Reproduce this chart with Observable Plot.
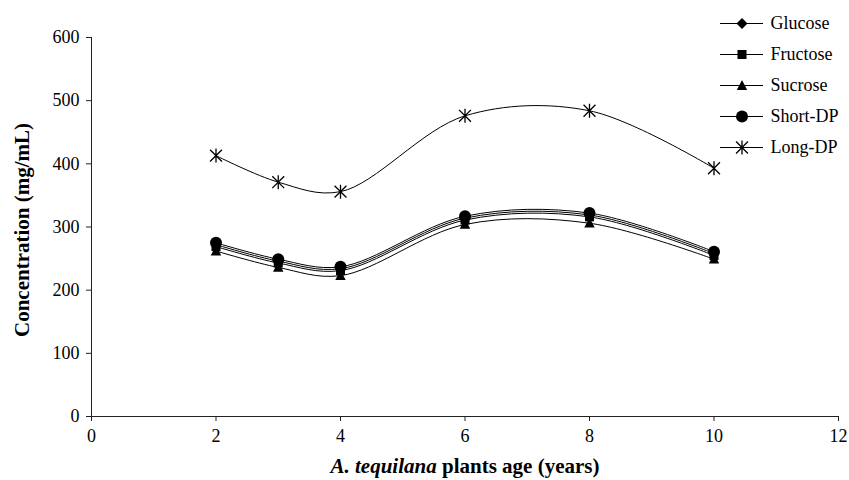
<!DOCTYPE html>
<html>
<head>
<meta charset="utf-8">
<script src="https://cdn.jsdelivr.net/npm/d3@7"></script>
<script src="https://cdn.jsdelivr.net/npm/@observablehq/plot@0.6"></script>
<style>
  html, body { margin: 0; padding: 0; background: white; }
  #wrap { position: relative; width: 849px; height: 480px; overflow: hidden; }
  #legend { position: absolute; left: 720px; top: 5px; width: 129px; height: 159px; }
</style>
</head>
<body>
<div id="wrap"><div id="legend"></div></div>
<script>
// ---- data ----
const ages = [2, 3, 4, 6, 8, 10];
const seriesNames = ["Glucose", "Fructose", "Sucrose", "Short-DP", "Long-DP"];
const glucose  = [272, 246, 234, 314, 319, 258];
const fructose = [269, 243, 231, 311, 316, 255];
const sucrose  = [262, 236, 223, 304, 306, 249];
const shortDP  = [275, 249, 237, 317, 322, 261];
const longDP   = [413, 371, 356, 476, 484, 393];
const xTicks = [0, 2, 4, 6, 8, 10, 12];
const yTicks = [0, 100, 200, 300, 400, 500, 600];

const valuesBySeries = {
  "Glucose": glucose, "Fructose": fructose, "Sucrose": sucrose,
  "Short-DP": shortDP, "Long-DP": longDP
};

// ---- custom Excel-like symbols ----
const rOf = size => Math.sqrt(size / Math.PI);
const diamondSym = {draw(c, size) { const r = rOf(size);
  c.moveTo(0, -r); c.lineTo(r, 0); c.lineTo(0, r); c.lineTo(-r, 0); c.closePath(); }};
const squareSym = {draw(c, size) { const h = rOf(size) * 0.82;
  c.moveTo(-h, -h); c.lineTo(h, -h); c.lineTo(h, h); c.lineTo(-h, h); c.closePath(); }};
const triangleSym = {draw(c, size) { const r = rOf(size);
  c.moveTo(0, -r); c.lineTo(r * 0.95, r * 0.8); c.lineTo(-r * 0.95, r * 0.8); c.closePath(); }};
const starSym = {draw(c, size) { const r = rOf(size); const d = r * 0.85;
  c.moveTo(0, -r); c.lineTo(0, r);
  c.moveTo(-d, -d); c.lineTo(d, d);
  c.moveTo(-d, d); c.lineTo(d, -d); }};

const symbolStyle = {
  "Glucose":  {symbol: diamondSym, r: 5.5, fill: "black", stroke: "none"},
  "Fructose": {symbol: squareSym, r: 5.5, fill: "black", stroke: "none"},
  "Sucrose":  {symbol: triangleSym, r: 5.5, fill: "black", stroke: "none"},
  "Short-DP": {symbol: "circle", r: 6, fill: "black", stroke: "none"},
  "Long-DP":  {symbol: starSym, r: 7, fill: "none", stroke: "black", strokeWidth: 1.3}
};

const fontFamily = "'Liberation Serif', 'Times New Roman', serif";

// ---- main chart ----
const marks = [];
for (const name of seriesNames) {
  const data = ages.map((a, i) => ({age: a, value: valuesBySeries[name][i]}));
  marks.push(Plot.line(data, {x: "age", y: "value", curve: "catmull-rom", stroke: "black", strokeWidth: 1}));
}
for (const name of seriesNames) {
  const data = ages.map((a, i) => ({age: a, value: valuesBySeries[name][i]}));
  marks.push(Plot.dot(data, {x: "age", y: "value", ...symbolStyle[name]}));
}
marks.push(Plot.ruleX([0], {stroke: "#222"}));
marks.push(Plot.ruleY([0], {stroke: "#222"}));
marks.push(Plot.axisX({ticks: xTicks, tickSize: 5, tickPadding: 8, label: null, stroke: "#222"}));
marks.push(Plot.axisY({ticks: yTicks, tickSize: 5, tickPadding: 7, label: null, stroke: "#222"}));

const chart = Plot.plot({
  width: 849,
  height: 480,
  marginLeft: 91,
  marginRight: 11,
  marginTop: 37,
  marginBottom: 64,
  x: {domain: [0, 12]},
  y: {domain: [0, 600]},
  style: {fontFamily, fontSize: "18px", background: "white", color: "black"},
  marks
});
document.getElementById("wrap").prepend(chart);

const svg = d3.select(chart);
svg.append("text")
  .attr("transform", "translate(22,230) rotate(-90)")
  .attr("text-anchor", "middle")
  .attr("dy", "0.35em")
  .attr("font-weight", "bold")
  .attr("font-size", 21)
  .attr("font-family", fontFamily)
  .attr("fill", "black")
  .text("Concentration (mg/mL)");
const xt = svg.append("text")
  .attr("transform", "translate(465,473)")
  .attr("text-anchor", "middle")
  .attr("font-weight", "bold")
  .attr("font-size", 21)
  .attr("font-family", fontFamily)
  .attr("fill", "black");
xt.append("tspan").attr("font-style", "italic").text("A. tequilana");
xt.append("tspan").text(" plants age (years)");

// ---- legend ----
const legendMarks = [Plot.ruleY(seriesNames, {y: d => d, stroke: "black", strokeWidth: 1})];
for (const name of seriesNames) {
  legendMarks.push(Plot.dot([name], {y: d => d, frameAnchor: "middle", ...symbolStyle[name]}));
}
legendMarks.push(Plot.text(seriesNames, {y: d => d, text: d => d, frameAnchor: "right", textAnchor: "start", dx: 7, fill: "black"}));

const legend = Plot.plot({
  width: 129,
  height: 159,
  marginLeft: 0,
  marginRight: 86,
  marginTop: 0,
  marginBottom: 0,
  x: {axis: null, domain: [0, 1]},
  y: {type: "point", domain: seriesNames, padding: 0.5, axis: null},
  style: {fontFamily, fontSize: "18px", background: "transparent", color: "black", overflow: "visible"},
  marks: legendMarks
});
document.getElementById("legend").append(legend);
</script>
</body>
</html>
